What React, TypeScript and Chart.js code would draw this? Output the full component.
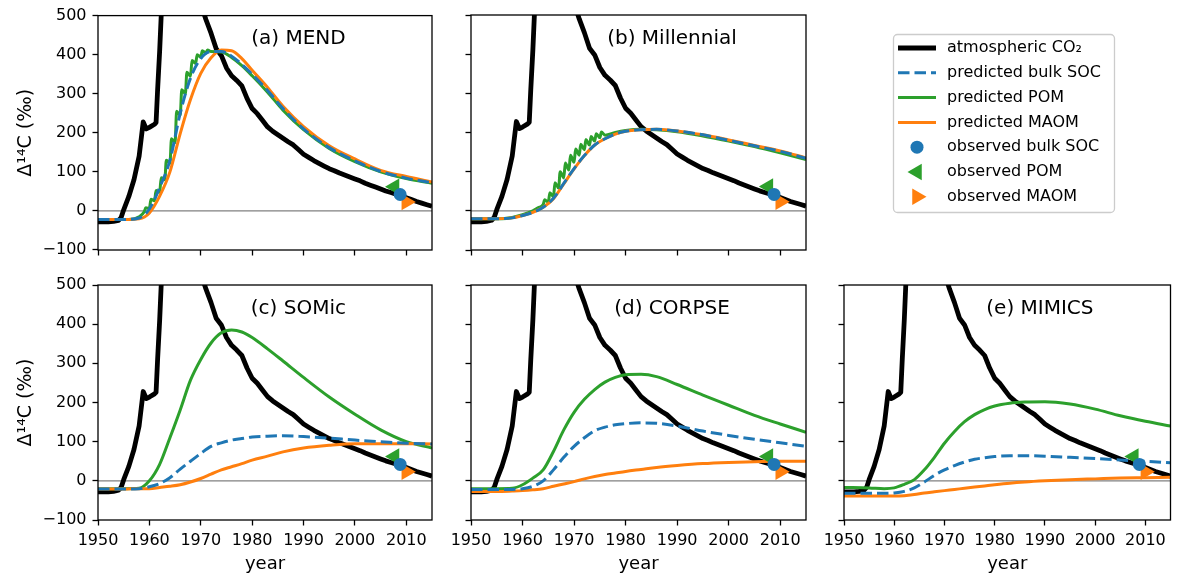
import React, { useEffect, useRef } from "react";
import { Chart, registerables } from "chart.js";

Chart.register(...registerables);

const FONT = "'DejaVu Sans', 'Liberation Sans', sans-serif";
const W = 1180;
const H = 576;

// ---- axes ----
const X_MIN = 1950;
const X_MAX = 2015;
const Y_MIN = -100;
const Y_MAX = 500;
const X_TICKS = [1950, 1960, 1970, 1980, 1990, 2000, 2010];
const Y_TICKS = [-100, 0, 100, 200, 300, 400, 500];
const ZERO_LINE_X = [X_MIN, X_MAX];
const ZERO_LINE_Y = [0, 0];

// ---- atmospheric CO2 Δ14C ----
const CO2_YEARS = [
  1950, 1951, 1952, 1953, 1954, 1954.5, 1955, 1956, 1957, 1958, 1958.8, 1959.4, 1960, 1961, 1961.3,
  1961.6, 1962, 1962.3, 1963, 1964, 1965, 1966, 1967, 1968, 1969, 1970, 1971, 1972, 1973, 1974,
  1975, 1976, 1977, 1978, 1979, 1980, 1981, 1982, 1983, 1984, 1985, 1986, 1987, 1988, 1989, 1990,
  1991, 1992, 1993, 1994, 1995, 1996, 1997, 1998, 1999, 2000, 2001, 2002, 2003, 2004, 2005, 2006,
  2007, 2008, 2009, 2010, 2011, 2012, 2013, 2014, 2015,
];
const CO2_VALUES = [
  -28, -28, -28, -27, -24, -17, 3, 37, 80, 140, 228, 210, 214, 222, 226,
  310, 410, 500, 700, 850, 780, 700, 640, 590, 558, 530, 490, 455, 415, 398,
  366, 346, 334, 320, 288, 262, 249, 232, 215, 204, 195, 186, 177, 169, 157, 145,
  137, 129, 122, 115, 108, 103, 97, 92, 87, 82, 77, 71, 66, 61, 56, 51,
  47, 43, 39, 34, 29, 24, 20, 16, 12,
];

// ---- model predictions (common year grid) ----
const MODEL_YEARS = [
  1950, 1955, 1958, 1960, 1962, 1964, 1966, 1968, 1970, 1972, 1974, 1976, 1978, 1980, 1983, 1986,
  1990, 1995, 2000, 2005, 2010, 2015,
];

// (a) MEND
const MEND_BULK = [-22, -22, -18, 5, 60, 130, 250, 340, 390, 408, 408, 396, 375, 350, 308, 262, 210, 162, 128, 101, 84, 72];
const MEND_MAOM = [-22, -22, -20, -5, 38, 100, 198, 285, 352, 392, 412, 410, 390, 360, 316, 268, 216, 167, 133, 104, 88, 74];
const MEND_POM_YEARS = [
  1950, 1956, 1958, 1959, 1959.3, 1960, 1960.3, 1961, 1961.3, 1962, 1962.3, 1963, 1963.3, 1964, 1964.3,
  1965, 1965.3, 1966, 1966.3, 1967, 1967.3, 1968, 1968.3, 1969, 1969.3, 1970, 1970.3, 1971, 1971.3, 1972,
  1974, 1976, 1978, 1980, 1983, 1986, 1990, 1995, 2000, 2005, 2010, 2015,
];
const MEND_POM = [
  -22, -22, -15, -2, 8, 6, 30, 26, 52, 48, 85, 80, 130, 122, 185,
  175, 255, 245, 310, 300, 355, 345, 385, 378, 400, 394, 410, 404, 412, 408,
  407, 393, 372, 346, 304, 258, 208, 160, 126, 100, 83, 71,
];

// (b) Millennial
const MILL_BULK = [-20, -20, -18, -12, -4, 9, 32, 70, 108, 141, 168, 184, 196, 203, 207, 208, 204, 194, 180, 166, 152, 134];
const MILL_MAOM = [-20, -20, -18, -12, -4, 9, 31, 69, 107, 141, 168, 184, 196, 203, 207, 208, 204, 194, 181, 167, 153, 135];
const MILL_POM_YEARS = [
  1950, 1956, 1958, 1960, 1962, 1963, 1964, 1964.3, 1965, 1965.3, 1966, 1966.3, 1967, 1967.3, 1968, 1968.3,
  1969, 1969.3, 1970, 1970.3, 1971, 1971.3, 1972, 1972.3, 1973, 1973.3, 1974, 1974.3, 1975, 1975.3, 1976,
  1978, 1980, 1983, 1986, 1990, 1995, 2000, 2005, 2010, 2015,
];
const MILL_POM = [
  -20, -20, -17, -10, 0, 8, 16, 28, 22, 46, 36, 72, 58, 100, 84, 122,
  104, 142, 124, 158, 142, 170, 156, 182, 168, 190, 178, 197, 187, 201, 193,
  200, 205, 208, 207, 202, 191, 178, 164, 148, 131,
];

// (c) SOMic
const SOMIC_BULK = [-21, -21, -20, -15, -7, 8, 30, 50, 70, 88, 97, 104, 108, 112, 114, 115, 113, 109, 104, 100, 96, 94];
const SOMIC_POM = [-20, -20, -19, 0, 42, 110, 181, 257, 310, 352, 378, 385, 380, 366, 337, 306, 264, 214, 170, 130, 100, 84];
const SOMIC_MAOM = [-21, -21, -20, -20, -17, -14, -10, -3, 6, 17, 28, 36, 44, 53, 63, 74, 84, 91, 95, 95, 95, 94];

// (d) CORPSE
const CORPSE_BULK = [-22, -22, -22, -20, -14, 0, 28, 60, 88, 110, 128, 137, 143, 146, 148, 147, 140, 127, 116, 106, 97, 88];
const CORPSE_POM = [-20, -20, -19, -10, 7, 28, 75, 130, 175, 208, 233, 252, 264, 271, 272, 266, 246, 219, 193, 167, 145, 124];
const CORPSE_MAOM = [-27, -27, -26, -25, -23, -20, -14, -8, -2, 5, 11, 16, 20, 24, 29, 34, 39, 44, 47, 49, 50, 50];

// (e) MIMICS
const MIMICS_BULK = [-32, -32, -32, -31, -27, -18, -3, 14, 28, 39, 48, 55, 59, 62, 64, 64, 63, 60, 57, 53, 50, 46];
const MIMICS_POM = [-17, -18, -20, -18, -9, 3, 28, 60, 96, 126, 151, 169, 182, 191, 198, 201, 202, 196, 183, 166, 152, 140];
const MIMICS_MAOM = [-39, -39, -39, -39, -38, -35, -31, -28, -25, -22, -19, -16, -13, -10, -6, -3, 0, 3, 5, 7, 8, 9];

// ---- observations ----
const OBS_BULK_YEAR = [2008.8];
const OBS_BULK = [42];
const OBS_POM_YEAR = [2007.7];
const OBS_POM = [62];
const OBS_MAOM_YEAR = [2010.0];
const OBS_MAOM = [23];

// ---- legend ----
const LEGEND_LABELS = [
  "atmospheric CO₂",
  "predicted bulk SOC",
  "predicted POM",
  "predicted MAOM",
  "observed bulk SOC",
  "observed POM",
  "observed MAOM",
];

// ---- styles ----
const C_BLACK = "#000000";
const C_BLUE = "#1f77b4";
const C_ORANGE = "#ff7f0e";
const C_GREEN = "#2ca02c";
const LW_CO2 = 4.8;
const LW_MODEL = 3;
const DASH = [11.5, 5];
const TRI_R = 9.5;
const DOT_R = 6.5;

const LEGEND_STYLES = [
  { kind: "line", color: C_BLACK, width: LW_CO2, dash: [] as number[] },
  { kind: "line", color: C_BLUE, width: LW_MODEL, dash: DASH },
  { kind: "line", color: C_GREEN, width: LW_MODEL, dash: [] as number[] },
  { kind: "line", color: C_ORANGE, width: LW_MODEL, dash: [] as number[] },
  { kind: "circle", color: C_BLUE, rotation: 0 },
  { kind: "triangle", color: C_GREEN, rotation: -90 },
  { kind: "triangle", color: C_ORANGE, rotation: 90 },
];

const COL_LEFT = [98, 471, 844];
const COL_RIGHT = [432, 806, 1178];
const ROW_TOP = [15, 285];
const ROW_BOTTOM = [250, 520];

type Panel = {
  title: string;
  col: number;
  row: number;
  pomYears: number[];
  pom: number[];
  bulk: number[];
  maom: number[];
};

const PANELS: Panel[] = [
  { title: "(a) MEND", col: 0, row: 0, pomYears: MEND_POM_YEARS, pom: MEND_POM, bulk: MEND_BULK, maom: MEND_MAOM },
  { title: "(b) Millennial", col: 1, row: 0, pomYears: MILL_POM_YEARS, pom: MILL_POM, bulk: MILL_BULK, maom: MILL_MAOM },
  { title: "(c) SOMic", col: 0, row: 1, pomYears: MODEL_YEARS, pom: SOMIC_POM, bulk: SOMIC_BULK, maom: SOMIC_MAOM },
  { title: "(d) CORPSE", col: 1, row: 1, pomYears: MODEL_YEARS, pom: CORPSE_POM, bulk: CORPSE_BULK, maom: CORPSE_MAOM },
  { title: "(e) MIMICS", col: 2, row: 1, pomYears: MODEL_YEARS, pom: MIMICS_POM, bulk: MIMICS_BULK, maom: MIMICS_MAOM },
];

const pts = (xs: number[], ys: number[]) => xs.map((x, i) => ({ x, y: ys[i] }));

function framePlugin(title: string) {
  return {
    id: "frameAndTitle",
    afterDatasetsDraw(chart: any) {
      const { ctx, chartArea: a } = chart;
      ctx.save();
      ctx.strokeStyle = "#000";
      ctx.lineWidth = 1.3;
      ctx.strokeRect(a.left, a.top, a.right - a.left, a.bottom - a.top);
      ctx.font = `20px ${FONT}`;
      ctx.fillStyle = "#000";
      ctx.textAlign = "center";
      ctx.textBaseline = "middle";
      ctx.fillText(title, a.left + 0.6 * (a.right - a.left), a.top + 0.1 * (a.bottom - a.top));
      ctx.restore();
    },
  };
}

const legendPlugin = {
  id: "figureLegend",
  afterDraw(chart: any) {
    const ctx = chart.ctx as CanvasRenderingContext2D;
    const bx = 893.5, by = 34.5, bw = 221, bh = 178;
    ctx.save();
    ctx.beginPath();
    (ctx as any).roundRect(bx, by, bw, bh, 4);
    ctx.fillStyle = "rgba(255,255,255,0.8)";
    ctx.fill();
    ctx.strokeStyle = "#cccccc";
    ctx.lineWidth = 1.3;
    ctx.stroke();
    ctx.font = `16px ${FONT}`;
    ctx.textBaseline = "middle";
    ctx.textAlign = "left";
    LEGEND_LABELS.forEach((label, i) => {
      const y = 48 + 24.8 * i;
      const st: any = LEGEND_STYLES[i];
      if (st.kind === "line") {
        ctx.beginPath();
        ctx.setLineDash(st.dash);
        ctx.strokeStyle = st.color;
        ctx.lineWidth = st.width;
        ctx.moveTo(898, y);
        ctx.lineTo(936, y);
        ctx.stroke();
        ctx.setLineDash([]);
      } else {
        ctx.fillStyle = st.color;
        if (st.kind === "circle") {
          ctx.beginPath();
          ctx.arc(917, y, DOT_R, 0, Math.PI * 2);
          ctx.fill();
        } else {
          const rot = (st.rotation * Math.PI) / 180;
          ctx.beginPath();
          for (let k = 0; k < 3; k++) {
            const ang = rot + (k * 2 * Math.PI) / 3;
            const px = 917 + Math.sin(ang) * TRI_R;
            const py = y - Math.cos(ang) * TRI_R;
            if (k === 0) ctx.moveTo(px, py);
            else ctx.lineTo(px, py);
          }
          ctx.closePath();
          ctx.fill();
        }
      }
      ctx.fillStyle = "#000";
      ctx.fillText(label, 947, y);
    });
    ctx.restore();
  },
};

function buildConfig(p: Panel, withLegend: boolean): any {
  const L = COL_LEFT[p.col];
  const R = COL_RIGHT[p.col];
  const T = ROW_TOP[p.row];
  const B = ROW_BOTTOM[p.row];
  const showY = p.col === 0;
  const showX = p.row === 1;
  const yW = showY ? L : 30;
  const xH = showX ? 56 : 30;
  const lineBase = { pointRadius: 0, fill: false, clip: 0, cubicInterpolationMode: "monotone" };
  const datasets: any[] = [
    { ...lineBase, label: "zero", data: pts(ZERO_LINE_X, ZERO_LINE_Y), borderColor: "#808080", borderWidth: 1.3, order: 10 },
    { ...lineBase, label: LEGEND_LABELS[0], data: pts(CO2_YEARS, CO2_VALUES), borderColor: C_BLACK, borderWidth: LW_CO2, tension: 0, cubicInterpolationMode: "default", order: 9, borderJoinStyle: "round" },
    { ...lineBase, label: LEGEND_LABELS[2], data: pts(p.pomYears, p.pom), borderColor: C_GREEN, borderWidth: LW_MODEL, order: 8 },
    { ...lineBase, label: LEGEND_LABELS[3], data: pts(MODEL_YEARS, p.maom), borderColor: C_ORANGE, borderWidth: LW_MODEL, order: 7 },
    { ...lineBase, label: LEGEND_LABELS[1], data: pts(MODEL_YEARS, p.bulk), borderColor: C_BLUE, borderWidth: LW_MODEL, borderDash: DASH, order: 6 },
    { label: LEGEND_LABELS[5], data: pts(OBS_POM_YEAR, OBS_POM), showLine: false, pointStyle: "triangle", rotation: -90, pointRadius: TRI_R, pointBackgroundColor: C_GREEN, pointBorderWidth: 0, order: 2 },
    { label: LEGEND_LABELS[6], data: pts(OBS_MAOM_YEAR, OBS_MAOM), showLine: false, pointStyle: "triangle", rotation: 90, pointRadius: TRI_R, pointBackgroundColor: C_ORANGE, pointBorderWidth: 0, order: 1 },
    { label: LEGEND_LABELS[4], data: pts(OBS_BULK_YEAR, OBS_BULK), showLine: false, pointStyle: "circle", pointRadius: DOT_R, pointBackgroundColor: C_BLUE, pointBorderWidth: 0, order: 0 },
  ];
  const tickFont = { family: FONT, size: 16 };
  const grid = { drawOnChartArea: false, drawTicks: true, tickLength: 5.5, tickWidth: 1.3, tickColor: "#000" };
  return {
    type: "line",
    data: { datasets },
    options: {
      responsive: false,
      maintainAspectRatio: false,
      animation: false,
      devicePixelRatio: 1,
      events: [],
      layout: { padding: { left: L - yW, right: W - R, top: T, bottom: H - B - xH } },
      plugins: { legend: { display: false }, tooltip: { enabled: false }, title: { display: false } },
      scales: {
        x: {
          type: "linear",
          min: X_MIN,
          max: X_MAX,
          afterBuildTicks: (s: any) => {
            s.ticks = X_TICKS.map((v) => ({ value: v }));
          },
          afterFit: (s: any) => {
            s.height = xH;
          },
          ticks: { display: showX, font: tickFont, color: "#000", padding: 6, autoSkip: false, maxRotation: 0, callback: (v: any) => String(v) },
          grid,
          border: { display: false },
          title: { display: showX, text: "year", font: { family: FONT, size: 18 }, color: "#000", padding: { top: 0, bottom: 1 } },
        },
        y: {
          type: "linear",
          min: Y_MIN,
          max: Y_MAX,
          afterBuildTicks: (s: any) => {
            s.ticks = Y_TICKS.map((v) => ({ value: v }));
          },
          afterFit: (s: any) => {
            s.width = yW;
          },
          ticks: { display: showY, font: tickFont, color: "#000", padding: 6, autoSkip: false, callback: (v: any) => (v < 0 ? "−" + Math.abs(v) : String(v)) },
          grid,
          border: { display: false },
          title: { display: showY, text: "Δ¹⁴C (‰)", font: { family: FONT, size: 19 }, color: "#000", padding: { top: 15, bottom: 0 } },
        },
      },
    },
    plugins: withLegend ? [framePlugin(p.title), legendPlugin] : [framePlugin(p.title)],
  };
}

export default function App() {
  const refs = useRef<(HTMLCanvasElement | null)[]>([]);
  useEffect(() => {
    const charts = PANELS.map((p, i) => new Chart(refs.current[i] as HTMLCanvasElement, buildConfig(p, i === PANELS.length - 1)));
    return () => charts.forEach((c) => c.destroy());
  }, []);
  return (
    <div style={{ position: "absolute", left: 0, top: 0, width: W, height: H, background: "#fff" }}>
      {PANELS.map((p, i) => (
        <canvas
          key={p.title}
          ref={(el) => {
            refs.current[i] = el;
          }}
          width={W}
          height={H}
          style={{ position: "absolute", left: 0, top: 0, width: W, height: H }}
        />
      ))}
    </div>
  );
}
